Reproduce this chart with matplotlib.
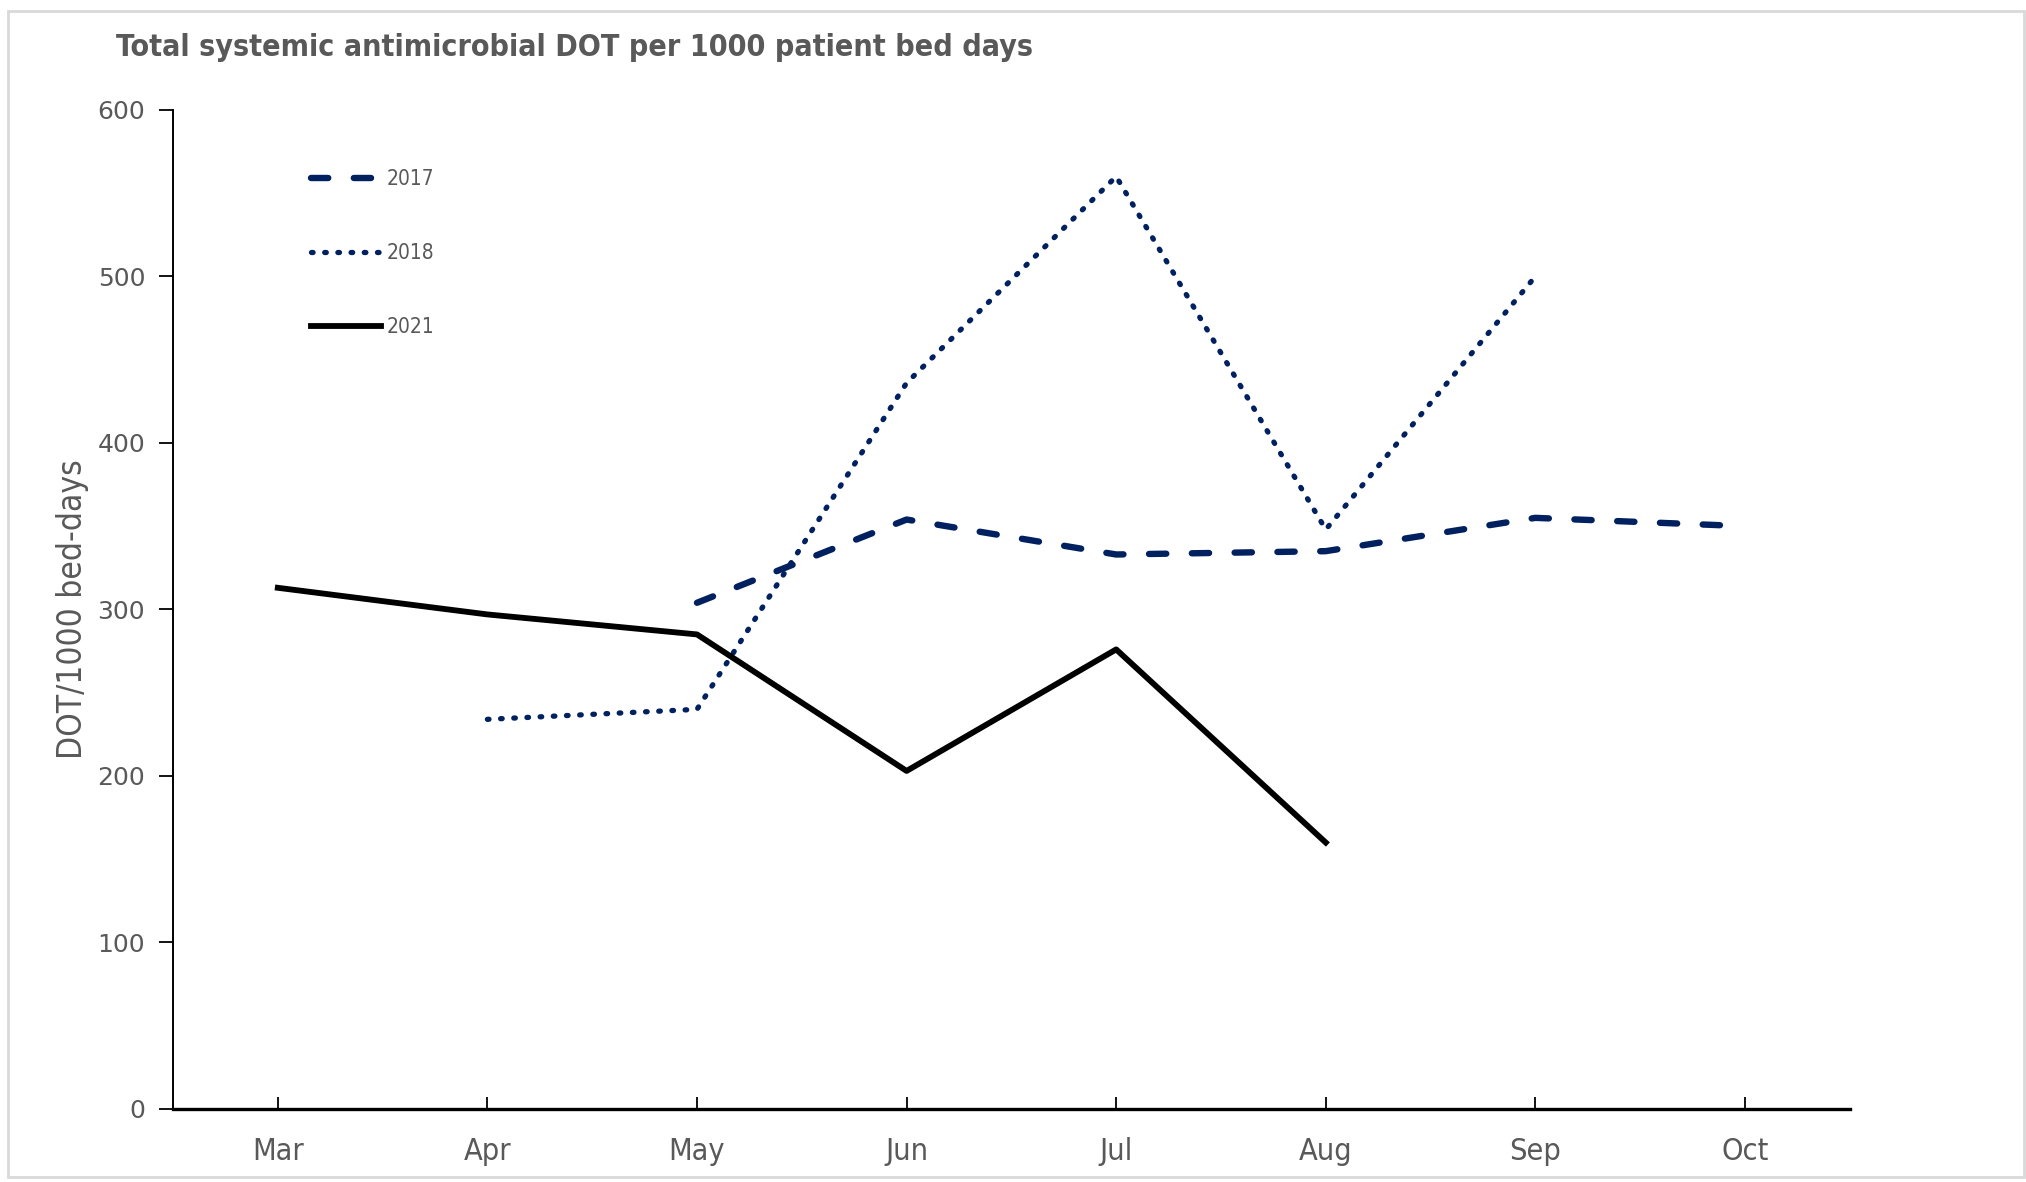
import matplotlib
matplotlib.use("Agg")
import matplotlib.pyplot as plt
from matplotlib.patches import Rectangle
import numpy as np

# datos
meses = ["Mar", "Apr", "May", "Jun", "Jul", "Aug", "Sep", "Oct"]
y2017 = [np.nan, np.nan, 304, 354, 333, 335, 355, 350]
y2018 = [np.nan, 234, 240, 436, 560, 348, 500, np.nan]
y2021 = [313, 297, 285, 203, 276, 160, np.nan, np.nan]
yticks = [0, 100, 200, 300, 400, 500, 600]

navy = "#002060"
gris = "#595959"

fig = plt.figure(figsize=(20.26, 11.82), dpi=100)
ax = fig.add_axes([0.0854, 0.0618, 0.8276, 0.8452])

x = np.arange(len(meses))
# cada año con su estilo de linea
ax.plot(x, y2017, color=navy, lw=4.6, ls=(0, (2.7, 4.0)), dash_capstyle="round", label="2017")
ax.plot(x, y2018, color=navy, lw=3.8, ls=(0, (0.3, 2.2)), dash_capstyle="round", label="2018")
ax.plot(x, y2021, color="black", lw=4.2, label="2021")

ax.set_xlim(-0.5, 7.5)
ax.set_ylim(0, 600)
ax.set_xticks(x)
ax.set_xticklabels(meses, fontsize=22, color=gris, stretch="condensed")
ax.set_yticks(yticks)
ax.set_yticklabels([str(v) for v in yticks], fontsize=18, color=gris)
ax.tick_params(axis="x", direction="in", length=9, width=1.3, pad=20, colors="black", labelcolor=gris)
ax.tick_params(axis="y", direction="out", length=10, width=1.3, pad=10, colors="black", labelcolor=gris)

for s in ["top", "right"]:
    ax.spines[s].set_visible(False)
ax.spines["left"].set_linewidth(1.4)
ax.spines["bottom"].set_linewidth(2.4)

ax.set_ylabel("DOT/1000 bed-days", fontsize=24, color=gris, labelpad=6, stretch="condensed")

leg = ax.legend(loc="upper left", bbox_to_anchor=(0.082, 0.941), frameon=False,
                prop={"size": 15, "stretch": "condensed"}, labelspacing=2.6,
                handlelength=3.4, handletextpad=0.25, borderpad=0, borderaxespad=0)
for t in leg.get_texts():
    t.set_color(gris)

fig.text(116 / 2026, 1 - 48 / 1182, "Total systemic antimicrobial DOT per 1000 patient bed days",
         fontsize=21.8, fontweight="bold", color=gris, va="center", ha="left", stretch="condensed")

# marco gris claro alrededor del grafico
fig.patches.append(Rectangle((8 / 2026, 0.004), 1 - 10 / 2026, 1 - 16 / 1182,
                             transform=fig.transFigure, fill=False,
                             edgecolor="#d9d9d9", lw=2))

fig.savefig("out.png", dpi=100)
